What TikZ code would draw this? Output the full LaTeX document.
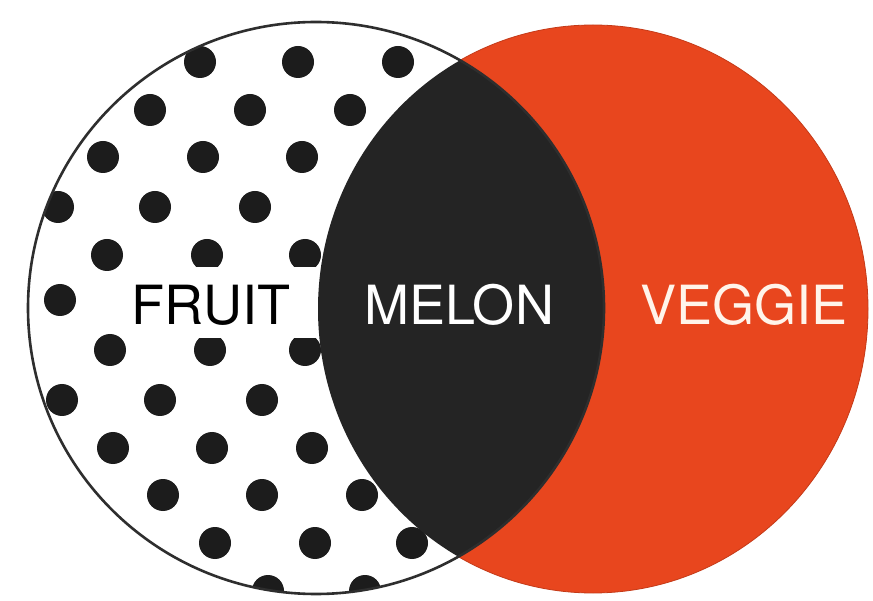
\documentclass[tikz,border=0pt]{standalone}
\usepackage{fontspec}
\setmainfont{TeX Gyre Heros}
\definecolor{veggieorange}{HTML}{E8461E}
\definecolor{veggieedge}{HTML}{C43A18}
\definecolor{melonblack}{HTML}{242424}
\definecolor{dotblack}{HTML}{1C1C1C}
\definecolor{outlinegray}{HTML}{2E2E2E}
\definecolor{cream}{HTML}{FFF4EA}
\tikzset{
  label text/.style={font=\fontsize{54}{60}\selectfont, inner sep=0pt, anchor=base},
  dotstyle/.style={fill=dotblack},
}
\begin{document}
\begin{tikzpicture}[x=1pt,y=-1pt]
\useasboundingbox (0,0) rectangle (873,601);
\fill[white] (0,0) rectangle (873,601);
% right set (veggie)
\fill[veggieorange] (593,309) ellipse [x radius=275pt, y radius=284pt];
\draw[veggieedge, line width=0.8pt] (593,309) ellipse [x radius=275pt, y radius=284pt];
% left set (fruit), white fill
\fill[white] (316,308) ellipse [x radius=288pt, y radius=286pt];
% dots clipped to the left set
\begin{scope}
  \clip (316,308) ellipse [x radius=288pt, y radius=286pt];
  \foreach \px/\py in {200/62,298/62,398/62,
                       150/110,250/110,350/110,
                       103/157,203/157,302/157,
                       58/207,155/207,255/207,
                       107/255,207/255,305/255,
                       60/300,
                       110/350,210/350,305/350,
                       62/400,160/400,262/400,
                       113/448,212/448,312/448,
                       163/495,262/495,362/495,
                       215/543,315/543,412/543,
                       268/591,365/591}
    \fill[dotstyle] (\px,\py) circle [radius=16pt];
\end{scope}
% white band behind FRUIT
\fill[white] (122,267) rectangle (330,338);
% intersection (melon)
\begin{scope}
  \clip (316,308) ellipse [x radius=288pt, y radius=286pt];
  \fill[melonblack] (593,309) ellipse [x radius=275pt, y radius=284pt];
\end{scope}
% outline of the left set
\draw[outlinegray, line width=2.6pt] (316,308) ellipse [x radius=288pt, y radius=286pt];
% labels
\node[label text, text=black] (fruit) at (211,325) {FRUIT};
\node[label text, text=white] (melon) at (459,325) {MELON};
\node[label text, text=cream] (veggie) at (744,325) {VEGGIE};
\end{tikzpicture}
\end{document}
